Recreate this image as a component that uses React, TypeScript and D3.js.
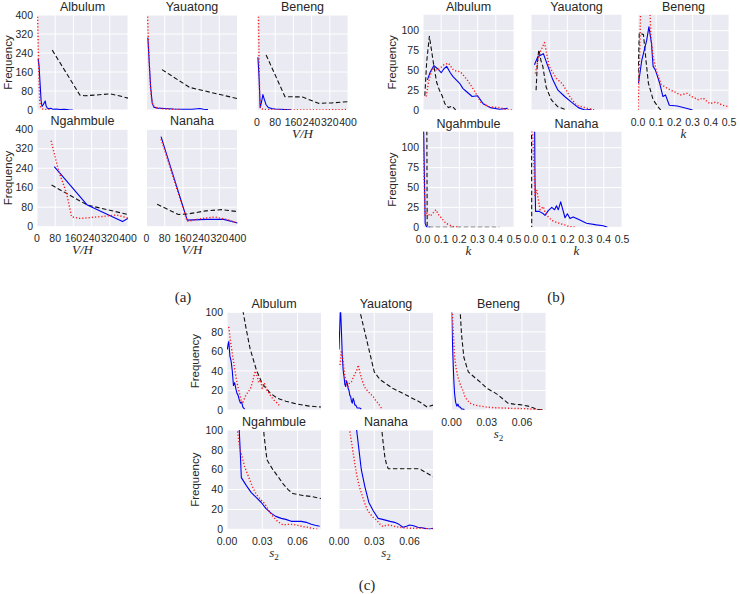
import React from "react";
import * as d3 from "d3";

type Pt = [number, number];

// ---------- (a) V/H ----------
const vhTicks = [0, 80, 160, 240, 320, 400];
const vhFreqTicks = [0, 80, 160, 240, 320, 400];

const aAlbulumBlue: Pt[] = [[5, 215], [9, 185], [13, 120], [18, 40], [22, 15], [27, 22], [32, 30], [36, 38], [40, 18], [45, 8], [52, 5], [60, 7], [70, 3], [85, 4], [100, 2], [120, 3], [140, 1], [157, 0]];
const aAlbulumRed: Pt[] = [[2, 420], [6, 250], [9, 120], [12, 40], [16, 12], [22, 5], [35, 2], [60, 0]];
const aAlbulumBlack: Pt[] = [[67, 252], [189, 62], [210, 60], [260, 63], [320, 68], [360, 60], [400, 50]];

const aYauatongBlue: Pt[] = [[6, 305], [12, 200], [18, 100], [25, 30], [32, 12], [50, 8], [80, 6], [120, 4], [160, 3], [200, 3], [235, 6], [250, 3], [270, 2]];
const aYauatongRed: Pt[] = [[4, 420], [8, 300], [14, 150], [20, 60], [28, 20], [40, 10], [70, 5], [110, 3], [150, 2]];
const aYauatongBlack: Pt[] = [[68, 170], [190, 95], [400, 48]];

const aBenengBlue: Pt[] = [[4, 222], [9, 140], [14, 10], [19, 30], [26, 65], [32, 45], [40, 22], [50, 10], [65, 6], [80, 4], [100, 3], [125, 2], [150, 1]];
const aBenengRed: Pt[] = [[6, 420], [8, 300], [10, 150], [12, 50], [15, 10], [25, 3], [60, 1], [150, 0], [250, 0], [400, 2]];
const aBenengBlack: Pt[] = [[40, 232], [123, 56], [200, 55], [270, 28], [330, 30], [400, 35]];

const aNgahmbuleBlue: Pt[] = [[76, 247], [221, 89], [376, 21], [400, 34]];
const aNgahmbuleRed: Pt[] = [[62, 353], [94, 233], [130, 137], [152, 41], [189, 34], [277, 41], [350, 48], [400, 36]];
const aNgahmbuleBlack: Pt[] = [[64, 171], [221, 89], [400, 50]];

const aNanahaBlue: Pt[] = [[64, 370], [179, 27], [260, 30], [340, 30], [400, 15]];
const aNanahaRed: Pt[] = [[64, 360], [179, 22], [240, 33], [300, 40], [360, 28], [400, 15]];
const aNanahaBlack: Pt[] = [[47, 92], [140, 50], [180, 52], [260, 65], [330, 70], [400, 62]];

// ---------- (b) k ----------
const kTicks = [0, 0.1, 0.2, 0.3, 0.4, 0.5];
const kFreqTicks = [0, 25, 50, 75, 100];

const bAlbulumBlue: Pt[] = [[0.024, 38], [0.04, 48], [0.06, 56], [0.08, 52], [0.1, 47], [0.115, 52], [0.13, 55], [0.15, 47], [0.165, 42], [0.2, 34], [0.22, 27], [0.24, 23], [0.27, 17], [0.3, 18], [0.33, 8], [0.37, 3], [0.42, 1], [0.465, 2]];
const bAlbulumRed: Pt[] = [[0.018, 17], [0.03, 35], [0.05, 52], [0.078, 50], [0.1, 54], [0.115, 57], [0.14, 59], [0.168, 50], [0.206, 48], [0.243, 38], [0.28, 25], [0.317, 10], [0.363, 4], [0.42, 3], [0.465, 0], [0.5, 0]];
const bAlbulumBlack: Pt[] = [[0.01, 18], [0.02, 60], [0.035, 93], [0.045, 78], [0.06, 55], [0.075, 35], [0.09, 25], [0.105, 18], [0.12, 8], [0.14, 3], [0.16, 5], [0.18, 0]];

const bYauatongBlue: Pt[] = [[0.019, 57], [0.037, 67], [0.068, 71], [0.093, 55], [0.12, 38], [0.148, 25], [0.185, 17], [0.222, 10], [0.26, 3], [0.296, 0], [0.333, 1]];
const bYauatongRed: Pt[] = [[0.024, 46], [0.046, 71], [0.074, 85], [0.1, 55], [0.139, 40], [0.176, 32], [0.213, 17], [0.25, 6], [0.296, 3], [0.35, 0]];
const bYauatongBlack: Pt[] = [[0.028, 25], [0.035, 60], [0.043, 76], [0.055, 62], [0.065, 55], [0.083, 29], [0.111, 13], [0.148, 4], [0.185, 1]];

const bBenengBlue: Pt[] = [[0.003, 34], [0.021, 63], [0.048, 88], [0.06, 105], [0.074, 84], [0.083, 55], [0.096, 50], [0.119, 34], [0.137, 17], [0.151, 19], [0.172, 6], [0.216, 5], [0.27, 2], [0.3, 0]];
const bBenengRed: Pt[] = [[0.0, 0], [0.008, 60], [0.015, 130], [0.04, 150], [0.065, 130], [0.071, 92], [0.083, 67], [0.1, 50], [0.128, 32], [0.163, 27], [0.199, 23], [0.234, 19], [0.27, 21], [0.296, 17], [0.33, 13], [0.358, 15], [0.394, 8], [0.43, 10], [0.465, 6], [0.5, 4]];
const bBenengBlack: Pt[] = [[0.0, 38], [0.007, 97], [0.03, 95], [0.045, 60], [0.057, 34], [0.083, 13], [0.11, 4], [0.125, 0]];

const bNgahmbuleBlue: Pt[] = [[0.003, 130], [0.008, 60], [0.012, 5], [0.02, 0], [0.04, 0]];
const bNgahmbuleRed: Pt[] = [[0.002, 125], [0.006, 60], [0.012, 15], [0.022, 18], [0.04, 14], [0.055, 18], [0.071, 22], [0.085, 16], [0.1, 12], [0.126, 5], [0.145, 3], [0.165, 1], [0.2, 0]];
const bNgahmbuleBlack: Pt[] = [[0.021, 130], [0.023, 0], [0.42, 0]];

const bNanahaBlue: Pt[] = [[0.02, 125], [0.022, 60], [0.025, 20], [0.045, 20], [0.068, 17], [0.077, 15], [0.095, 21], [0.114, 25], [0.13, 22], [0.14, 27], [0.15, 22], [0.163, 32], [0.187, 12], [0.2, 17], [0.214, 11], [0.232, 13], [0.26, 10], [0.305, 5], [0.36, 3], [0.397, 2], [0.42, 0]];
const bNanahaRed: Pt[] = [[0.008, 125], [0.014, 90], [0.022, 40], [0.032, 47], [0.041, 34], [0.05, 22], [0.068, 26], [0.077, 19], [0.095, 13], [0.113, 9], [0.13, 7], [0.157, 5], [0.184, 3], [0.21, 1], [0.246, 0]];
const bNanahaBlack: Pt[] = [[0.003, 125], [0.004, 0]];

// ---------- (c) s2 ----------
const sTicks = [0, 0.03, 0.06];
const sFreqTicks = [0, 20, 40, 60, 80, 100];

const cAlbulumBlue: Pt[] = [[0.0003, 62], [0.001, 68], [0.0015, 70], [0.0025, 55], [0.0035, 50], [0.0045, 40], [0.0055, 25], [0.0065, 28], [0.0075, 22], [0.0085, 17], [0.0095, 15], [0.0105, 10], [0.0115, 7], [0.0125, 8], [0.0135, 3], [0.015, 1]];
const cAlbulumRed: Pt[] = [[0.0015, 85], [0.003, 70], [0.0045, 58], [0.0065, 42], [0.0085, 28], [0.01, 20], [0.012, 10], [0.0135, 8], [0.016, 15], [0.02, 22], [0.022, 30], [0.024, 40], [0.026, 33], [0.027, 28], [0.0285, 31], [0.03, 22], [0.032, 27], [0.034, 20], [0.036, 17], [0.038, 13], [0.04, 10], [0.042, 8], [0.045, 4]];
const cAlbulumBlack: Pt[] = [[0.0135, 102], [0.016, 85], [0.0196, 63], [0.025, 41], [0.03, 27], [0.037, 17], [0.043, 12], [0.05, 9], [0.06, 6], [0.07, 4], [0.08, 3]];

const cYauatongBlue: Pt[] = [[0.0, 62], [0.0012, 105], [0.0018, 90], [0.0028, 55], [0.0036, 40], [0.0043, 34], [0.005, 26], [0.0057, 24], [0.0064, 30], [0.0071, 27], [0.0078, 22], [0.0085, 20], [0.0092, 15], [0.0099, 14], [0.0106, 9], [0.0113, 7], [0.012, 12], [0.0128, 9], [0.0135, 5], [0.0142, 5], [0.0155, 2], [0.0175, 2], [0.019, 1]];
const cYauatongRed: Pt[] = [[0.0009, 46], [0.002, 61], [0.0035, 50], [0.005, 34], [0.0065, 27], [0.0078, 24], [0.009, 28], [0.0106, 29], [0.012, 33], [0.0135, 37], [0.015, 40], [0.0164, 46], [0.0177, 39], [0.019, 33], [0.0206, 27], [0.0225, 22], [0.0248, 19], [0.027, 16], [0.029, 14], [0.031, 10], [0.0333, 7], [0.036, 2]];
const cYauatongBlack: Pt[] = [[0.017, 105], [0.0235, 72], [0.03, 39], [0.035, 31], [0.046, 22], [0.0576, 15], [0.069, 8], [0.075, 3], [0.08, 5]];

const cBenengBlue: Pt[] = [[0.0, 105], [0.0008, 70], [0.0015, 45], [0.002, 30], [0.0026, 17], [0.0035, 8], [0.0045, 4], [0.0055, 6], [0.0065, 3], [0.0075, 3], [0.0085, 1], [0.0097, 1], [0.011, 0.5]];
const cBenengRed: Pt[] = [[0.0005, 105], [0.0015, 80], [0.0026, 55], [0.004, 42], [0.0054, 34], [0.0075, 26], [0.0097, 20], [0.0114, 14], [0.0135, 10], [0.0157, 7], [0.02, 5], [0.0245, 4], [0.03, 3], [0.036, 2.4], [0.045, 2], [0.051, 1.7], [0.058, 1.5], [0.065, 1.3], [0.072, 0.5], [0.077, 0]];
const cBenengBlack: Pt[] = [[0.0072, 105], [0.0085, 78], [0.0105, 54], [0.0143, 39], [0.02, 33], [0.025, 28], [0.0303, 22], [0.035, 19], [0.039, 16], [0.044, 11], [0.048, 7], [0.053, 6], [0.058, 5.5], [0.0653, 4], [0.07, 2], [0.0726, 0.5], [0.08, 0]];

const cNgahmbuleBlue: Pt[] = [[0.0102, 105], [0.0112, 80], [0.0122, 52], [0.0165, 44], [0.0207, 37], [0.025, 32], [0.0292, 27], [0.033, 21], [0.0377, 16], [0.0415, 13], [0.0462, 11], [0.05, 10], [0.0547, 8], [0.059, 8], [0.0632, 8], [0.0675, 7], [0.0717, 5], [0.075, 4], [0.0788, 3]];
const cNgahmbuleRed: Pt[] = [[0.0085, 105], [0.0094, 95], [0.011, 80], [0.0122, 76], [0.015, 63], [0.0193, 50], [0.022, 42], [0.025, 35], [0.0285, 30], [0.032, 26], [0.0355, 19], [0.0391, 13], [0.043, 8], [0.0476, 4.4], [0.052, 5], [0.056, 5], [0.06, 4], [0.0646, 2.7], [0.069, 2], [0.073, 0.7], [0.077, 0]];
const cNgahmbuleBlack: Pt[] = [[0.031, 105], [0.0315, 95], [0.033, 80], [0.034, 70], [0.0365, 65], [0.0391, 60], [0.0435, 53], [0.0476, 46], [0.052, 40], [0.056, 36], [0.0646, 34], [0.072, 33], [0.08, 31]];

const cNanahaBlue: Pt[] = [[0.0145, 105], [0.015, 100], [0.017, 80], [0.019, 60], [0.022, 43], [0.0254, 27], [0.029, 19], [0.0333, 11], [0.037, 10], [0.0403, 9], [0.0435, 8], [0.0473, 7], [0.051, 5], [0.0544, 2], [0.0575, 3], [0.06, 4.4], [0.0635, 3.5], [0.0671, 2], [0.0705, 1.5], [0.0741, 0.7], [0.077, 0], [0.08, 1]];
const cNanahaRed: Pt[] = [[0.0085, 105], [0.0093, 98], [0.011, 85], [0.0135, 66], [0.0155, 52], [0.0178, 41], [0.02, 33], [0.022, 26], [0.024, 20], [0.0262, 16], [0.029, 12], [0.0318, 9.4], [0.035, 5], [0.0375, 2.7], [0.04, 4], [0.0431, 4.4], [0.047, 3], [0.0515, 2], [0.056, 1.5], [0.06, 1], [0.066, 1], [0.0713, 1], [0.076, 0.5], [0.08, 0]];
const cNanahaBlack: Pt[] = [[0.036, 105], [0.0375, 88], [0.039, 73], [0.0405, 65], [0.042, 61], [0.048, 61], [0.054, 61], [0.06, 61], [0.0685, 61], [0.0727, 58], [0.08, 53]];

const sites = ["Albulum", "Yauatong", "Beneng", "Ngahmbule", "Nanaha"];

// ---------- layout ----------
const FONT = "'Liberation Sans', Arial, Helvetica, sans-serif";
const SERIF = "'Liberation Serif', 'DejaVu Serif', serif";
const INK = "#262626";
const BG = "#EAEAF2";

type Kind = "blue" | "red" | "black";
const lineStyle: Record<Kind, { stroke: string; dash?: string; width: number }> = {
  blue: { stroke: "#0000f0", width: 1.1 },
  red: { stroke: "#ff1a1a", dash: "1.2,2", width: 1.4 },
  black: { stroke: "#111", dash: "4.5,2.5", width: 1.1 },
};

interface Group {
  id: string;
  caption: string;
  captionPos: [number, number];
  xMax: number;
  yMax: number;
  xTicks: number[];
  yTicks: number[];
  fmt: (v: number) => string;
  cols: number[];
  w: number;
  rows: [number, number][];
  yLabelX: number;
  data: [Pt[], Pt[], Pt[]][];
  xLabel: "vh" | "k" | "s2";
}

const groups: Group[] = [
  {
    id: "a", caption: "(a)", captionPos: [183, 297], xMax: 400, yMax: 400,
    xTicks: vhTicks, yTicks: vhFreqTicks, fmt: d3.format("d"),
    cols: [37, 146.5, 257], w: 91, rows: [[15, 95], [129.3, 97.4]], yLabelX: 8, xLabel: "vh",
    data: [
      [aAlbulumBlue, aAlbulumRed, aAlbulumBlack],
      [aYauatongBlue, aYauatongRed, aYauatongBlack],
      [aBenengBlue, aBenengRed, aBenengBlack],
      [aNgahmbuleBlue, aNgahmbuleRed, aNgahmbuleBlack],
      [aNanahaBlue, aNanahaRed, aNanahaBlack],
    ],
  },
  {
    id: "b", caption: "(b)", captionPos: [556, 297], xMax: 0.5, yMax: 120,
    xTicks: kTicks, yTicks: kFreqTicks, fmt: d3.format(".1f"),
    cols: [423, 531, 638], w: 91, rows: [[14.8, 95.2], [131.8, 95.5]], yLabelX: 392, xLabel: "k",
    data: [
      [bAlbulumBlue, bAlbulumRed, bAlbulumBlack],
      [bYauatongBlue, bYauatongRed, bYauatongBlack],
      [bBenengBlue, bBenengRed, bBenengBlack],
      [bNgahmbuleBlue, bNgahmbuleRed, bNgahmbuleBlack],
      [bNanahaBlue, bNanahaRed, bNanahaBlack],
    ],
  },
  {
    id: "c", caption: "(c)", captionPos: [367, 585], xMax: 0.08, yMax: 100,
    xTicks: sTicks, yTicks: sFreqTicks, fmt: d3.format(".2f"),
    cols: [227, 339, 451.5], w: 94, rows: [[312.3, 97.7], [430, 99.3]], yLabelX: 195, xLabel: "s2",
    data: [
      [cAlbulumBlue, cAlbulumRed, cAlbulumBlack],
      [cYauatongBlue, cYauatongRed, cYauatongBlack],
      [cBenengBlue, cBenengRed, cBenengBlack],
      [cNgahmbuleBlue, cNgahmbuleRed, cNgahmbuleBlack],
      [cNanahaBlue, cNanahaRed, cNanahaBlack],
    ],
  },
];

const yFmt = d3.format("d");

const XLabel = ({ kind, x, y }: { kind: Group["xLabel"]; x: number; y: number }) => {
  if (kind === "s2") {
    return (
      <text x={x} y={y} textAnchor="middle" fontFamily={SERIF} fontSize={13} fill={INK}>
        <tspan fontStyle="italic">s</tspan>
        <tspan fontSize={9} dy={3}>2</tspan>
      </text>
    );
  }
  return (
    <text x={x} y={y} textAnchor="middle" fontFamily={SERIF} fontStyle="italic" fontSize={13} fill={INK}>
      {kind === "vh" ? "V/H" : "k"}
    </text>
  );
};

const PanelView = ({ g, i }: { g: Group; i: number }) => {
  const row = i < 3 ? 0 : 1;
  const col = i < 3 ? i : i - 3;
  const [top, h] = g.rows[row];
  const left = g.cols[col];
  const x = d3.scaleLinear().domain([0, g.xMax]).range([left, left + g.w]);
  const y = d3.scaleLinear().domain([0, g.yMax]).range([top + h, top]);
  const line = d3.line<Pt>().x((d) => x(d[0])).y((d) => y(d[1]));
  const clipId = `clip-${g.id}-${i}`;
  const showX = i >= 2;
  const showY = col === 0;
  const bottom = top + h;
  const kinds: Kind[] = ["blue", "red", "black"];
  const order = [2, 0, 1];
  return (
    <g>
      <defs>
        <clipPath id={clipId}>
          <rect x={left} y={top} width={g.w} height={h} />
        </clipPath>
      </defs>
      <rect x={left} y={top} width={g.w} height={h} fill={BG} />
      {g.xTicks.map((t) => (
        <line key={"gx" + t} x1={x(t)} x2={x(t)} y1={top} y2={bottom} stroke="#fff" strokeWidth={1} />
      ))}
      {g.yTicks.map((t) => (
        <line key={"gy" + t} x1={left} x2={left + g.w} y1={y(t)} y2={y(t)} stroke="#fff" strokeWidth={1} />
      ))}
      <g clipPath={`url(#${clipId})`}>
        {order.map((k) => {
          const st = lineStyle[kinds[k]];
          return (
            <path key={k} d={line(g.data[i][k]) || ""} fill="none" stroke={st.stroke}
              strokeWidth={st.width} strokeDasharray={st.dash} strokeLinejoin="round" />
          );
        })}
      </g>
      <text x={left + g.w / 2} y={top - 4} textAnchor="middle" fontFamily={FONT} fontSize={12.5} fill={INK}>
        {sites[i]}
      </text>
      {showY &&
        g.yTicks.map((t) => (
          <text key={"ty" + t} x={left - 4} y={y(t)} dy="0.35em" textAnchor="end" fontFamily={FONT} fontSize={10.5} fill={INK}>
            {yFmt(t)}
          </text>
        ))}
      {showY && (
        <text transform={`translate(${g.yLabelX},${top + h / 2}) rotate(-90)`} dy="0.35em" textAnchor="middle"
          fontFamily={FONT} fontSize={11.5} fill={INK}>
          Frequency
        </text>
      )}
      {showX &&
        g.xTicks.map((t) => (
          <text key={"tx" + t} x={x(t)} y={bottom + 15.5} textAnchor="middle" fontFamily={FONT} fontSize={10.5} fill={INK}>
            {g.fmt(t)}
          </text>
        ))}
      {showX && <XLabel kind={g.xLabel} x={left + g.w / 2} y={bottom + 27.5} />}
    </g>
  );
};

export default function App() {
  return (
    <svg width={740} height={594} style={{ position: "absolute", left: 0, top: 0, background: "#fff" }}>
      {groups.map((g) => (
        <g key={g.id}>
          {sites.map((s, i) => (
            <PanelView key={s} g={g} i={i} />
          ))}
          <text x={g.captionPos[0]} y={g.captionPos[1]} dy="0.35em" textAnchor="middle" fontFamily={SERIF} fontSize={15} fill={INK}>
            {g.caption}
          </text>
        </g>
      ))}
    </svg>
  );
}
